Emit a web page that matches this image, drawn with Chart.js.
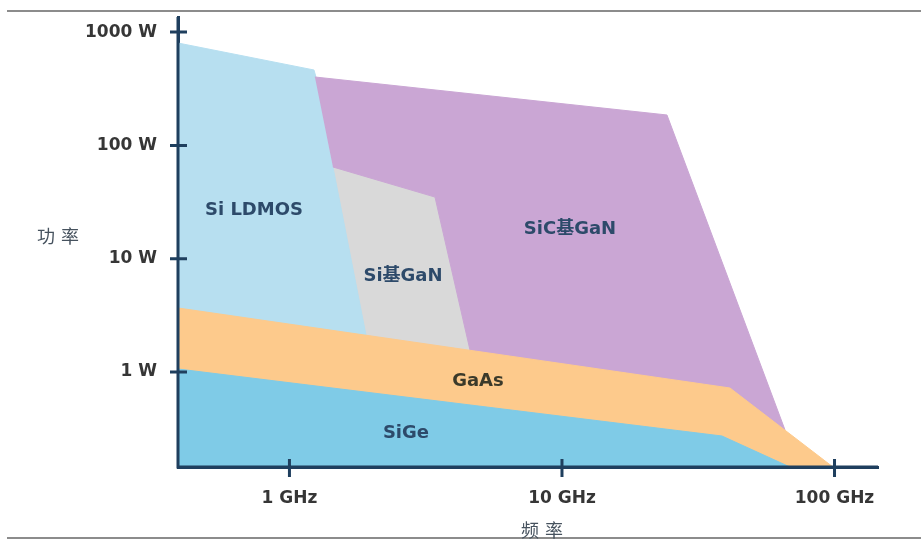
<!DOCTYPE html>
<html>
<head>
<meta charset="utf-8">
<script src="https://cdn.jsdelivr.net/npm/chart.js@4.4.1/dist/chart.umd.min.js"></script>
<style>
  html, body { margin: 0; padding: 0; background: #ffffff; }
  #wrap { width: 921px; height: 540px; }
</style>
</head>
<body>
<div id="wrap"><canvas id="c" width="921" height="540"></canvas></div>
<script>
// ---- Data (frequency in GHz, power in W) ----
const freqTicksGHz = [1, 10, 100];
const powerTicksW = [1, 10, 100, 1000];

const siLdmosGHz = [0.39, 1.23, 1.251, 1.444, 1.909, 1.909, 0.39];
const siLdmosW   = [801, 463, 402, 64.5, 2.12, 0.145, 0.145];

const siGaNGHz = [1.444, 3.42, 4.597, 4.597, 1.6];
const siGaNW   = [64.5, 35.0, 1.563, 1.0, 1.0];

const sicGaNGHz = [1.24, 24.28, 65.82, 41.34, 4.597, 4.597, 3.42, 1.444];
const sicGaNW   = [401.6, 185.5, 0.3077, 0.5, 1.2, 1.563, 35.0, 64.5];

const gaAsGHz = [0.39, 41.34, 98.74, 0.39];
const gaAsW   = [3.672, 0.7226, 0.145, 0.145];

const siGeGHz = [0.39, 38.65, 68.66, 0.39];
const siGeW   = [1.063, 0.2723, 0.145, 0.145];

const regionNames = ['Si LDMOS', 'Si基GaN', 'SiC基GaN', 'GaAs', 'SiGe'];
const regionLabelGHz = [0.741, 2.61, 10.70, 4.918, 2.676];
const regionLabelW   = [26.9, 7.04, 18.29, 0.833, 0.2894];

const xTitle = '频率';
const yTitle = '功率';

// ---- Styles ----
const axisColor = '#1f3f5e';
const tickTextColor = '#363636';
const colors = {
  ldmos: '#b7dff0',
  sigan: '#d9d9d9',
  sicgan: '#caa6d4',
  gaas: '#fdca8c',
  sige: '#7fcbe7'
};
const labelColors = ['#2d4a6a', '#2d4a6a', '#2d4a6a', '#3b3a2a', '#2d4a6a'];

function pts(xs, ys) { return xs.map((x, i) => ({ x: x, y: ys[i] })); }

function region(data, color, order) {
  return {
    data: data,
    fill: 'shape',
    backgroundColor: color,
    borderColor: color,
    borderWidth: 1,
    pointRadius: 0,
    pointHoverRadius: 0,
    tension: 0,
    order: order
  };
}

const decor = {
  id: 'decor',
  beforeDraw(chart) {
    const ctx = chart.ctx;
    ctx.save();
    ctx.fillStyle = '#ffffff';
    ctx.fillRect(0, 0, chart.width, chart.height);
    ctx.restore();
  },
  afterDraw(chart) {
    const ctx = chart.ctx;
    const xs = chart.scales.x, ys = chart.scales.y;
    const area = chart.chartArea;
    ctx.save();
    // page rules
    ctx.strokeStyle = '#8c8c8c';
    ctx.lineWidth = 2;
    ctx.beginPath();
    ctx.moveTo(7, 11); ctx.lineTo(921, 11);
    ctx.moveTo(7, 538); ctx.lineTo(921, 538);
    ctx.stroke();
    // axis lines (reinforced) and crossing tick marks
    ctx.strokeStyle = axisColor;
    ctx.lineWidth = 3;
    ctx.beginPath();
    ctx.moveTo(area.left, area.top); ctx.lineTo(area.left, area.bottom + 1.5);
    ctx.moveTo(area.left - 1.5, area.bottom); ctx.lineTo(area.right, area.bottom);
    ys.ticks.forEach(t => {
      const py = ys.getPixelForValue(t.value);
      ctx.moveTo(area.left - 8, py); ctx.lineTo(area.left + 9, py);
    });
    xs.ticks.forEach(t => {
      const px = xs.getPixelForValue(t.value);
      ctx.moveTo(px, area.bottom - 8); ctx.lineTo(px, area.bottom + 10);
    });
    ctx.stroke();
    // region labels
    ctx.textAlign = 'center';
    ctx.textBaseline = 'middle';
    ctx.font = 'bold 18px "DejaVu Sans", "Noto Sans CJK SC", sans-serif';
    regionNames.forEach((name, i) => {
      ctx.fillStyle = labelColors[i];
      ctx.fillText(name, xs.getPixelForValue(regionLabelGHz[i]), ys.getPixelForValue(regionLabelW[i]));
    });
    // axis titles
    ctx.font = '18px "Noto Sans CJK SC", sans-serif';
    ctx.fillStyle = '#46525e';
    function spaced(text, cx, cy, gap) {
      const chars = Array.from(text);
      const widths = chars.map(c => ctx.measureText(c).width);
      const total = widths.reduce((a, b) => a + b, 0) + gap * (chars.length - 1);
      let x = cx - total / 2;
      ctx.textAlign = 'left';
      chars.forEach((c, i) => { ctx.fillText(c, x, cy); x += widths[i] + gap; });
    }
    spaced(yTitle, 58, 236, 6);
    spaced(xTitle, 542, 530, 6);
    ctx.restore();
  }
};

function noPad(s) {
  s.paddingTop = 0; s.paddingBottom = 0; s.paddingLeft = 0; s.paddingRight = 0;
}

new Chart(document.getElementById('c'), {
  type: 'line',
  data: {
    datasets: [
      region(pts(siGaNGHz, siGaNW), colors.sigan, 5),
      region(pts(siLdmosGHz, siLdmosW), colors.ldmos, 4),
      region(pts(sicGaNGHz, sicGaNW), colors.sicgan, 3),
      region(pts(gaAsGHz, gaAsW), colors.gaas, 2),
      region(pts(siGeGHz, siGeW), colors.sige, 1)
    ]
  },
  options: {
    responsive: false,
    animation: false,
    events: [],
    layout: { padding: { left: 0, top: 17, right: 43, bottom: 0 } },
    plugins: { legend: { display: false }, tooltip: { enabled: false }, title: { display: false } },
    scales: {
      x: {
        type: 'logarithmic',
        position: 'bottom',
        min: 0.39,
        max: 144.4,
        z: 1,
        grid: { display: false, drawTicks: false },
        border: { display: true, color: axisColor, width: 3 },
        ticks: {
          padding: 21,
          autoSkip: false,
          maxRotation: 0,
          color: tickTextColor,
          font: { family: 'DejaVu Sans', size: 17, weight: 'bold' },
          callback: v => v + ' GHz'
        },
        afterBuildTicks: s => { s.ticks = freqTicksGHz.map(v => ({ value: v })); },
        afterFit: s => { s.height = 73; noPad(s); }
      },
      y: {
        type: 'logarithmic',
        position: 'left',
        min: 0.14505,
        max: 1359,
        z: 1,
        grid: { display: false, drawTicks: false },
        border: { display: true, color: axisColor, width: 3 },
        ticks: {
          padding: 21,
          autoSkip: false,
          color: tickTextColor,
          font: { family: 'DejaVu Sans', size: 17, weight: 'bold' },
          callback: v => v + ' W'
        },
        afterBuildTicks: s => { s.ticks = powerTicksW.map(v => ({ value: v })); },
        afterFit: s => { s.width = 178; noPad(s); }
      }
    }
  },
  plugins: [decor]
});
</script>
</body>
</html>
